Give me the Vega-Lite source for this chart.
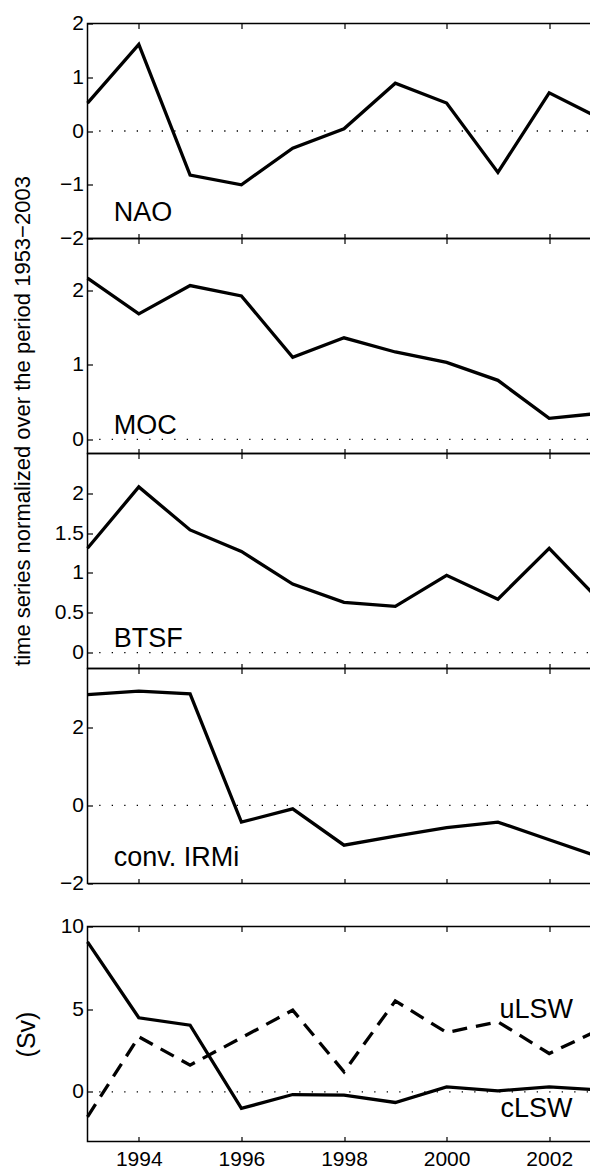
{
  "$schema": "https://vega.github.io/schema/vega-lite/v6.json",
  "padding": {"left": 10.5, "top": 11.5, "right": 0, "bottom": 30},
  "config": {
    "font": "Liberation Sans",
    "view": {"stroke": "black", "strokeWidth": 1.5},
    "axis": {"domain": false, "grid": false, "ticks": true, "tickColor": "black", "tickSize": -5, "tickWidth": 1.2,
      "labelColor": "black", "labelFontSize": 21, "labelFont": "Liberation Sans", "titleColor": "black", "titleFont": "Liberation Sans",
      "titleFontWeight": "normal", "labelOverlap": false, "labelBound": false, "labelFlush": false}
  },
  "datasets": {
    "zero": [{"value": 0}],
    "nao": [
      {"year": 1993, "value": 0.52}, {"year": 1994, "value": 1.61}, {"year": 1995, "value": -0.82}, {"year": 1996, "value": -1.0},
      {"year": 1997, "value": -0.32}, {"year": 1998, "value": 0.04}, {"year": 1999, "value": 0.89}, {"year": 2000, "value": 0.52},
      {"year": 2001, "value": -0.77}, {"year": 2002, "value": 0.71}, {"year": 2003, "value": 0.23}
    ],
    "moc": [
      {"year": 1993, "value": 2.16}, {"year": 1994, "value": 1.68}, {"year": 1995, "value": 2.06}, {"year": 1996, "value": 1.92},
      {"year": 1997, "value": 1.10}, {"year": 1998, "value": 1.36}, {"year": 1999, "value": 1.17}, {"year": 2000, "value": 1.03},
      {"year": 2001, "value": 0.79}, {"year": 2002, "value": 0.28}, {"year": 2003, "value": 0.35}
    ],
    "btsf": [
      {"year": 1993, "value": 1.31}, {"year": 1994, "value": 2.08}, {"year": 1995, "value": 1.54}, {"year": 1996, "value": 1.27},
      {"year": 1997, "value": 0.86}, {"year": 1998, "value": 0.63}, {"year": 1999, "value": 0.58}, {"year": 2000, "value": 0.97},
      {"year": 2001, "value": 0.67}, {"year": 2002, "value": 1.31}, {"year": 2003, "value": 0.64}
    ],
    "irmi": [
      {"year": 1993, "value": 2.83}, {"year": 1994, "value": 2.92}, {"year": 1995, "value": 2.85}, {"year": 1996, "value": -0.43},
      {"year": 1997, "value": -0.09}, {"year": 1998, "value": -1.02}, {"year": 1999, "value": -0.79}, {"year": 2000, "value": -0.57},
      {"year": 2001, "value": -0.43}, {"year": 2002, "value": -0.88}, {"year": 2003, "value": -1.33}
    ],
    "lsw": [
      {"series": "cLSW", "year": 1993, "value": 9.07}, {"series": "cLSW", "year": 1994, "value": 4.48}, {"series": "cLSW", "year": 1995, "value": 4.03},
      {"series": "cLSW", "year": 1996, "value": -1.0}, {"series": "cLSW", "year": 1997, "value": -0.16}, {"series": "cLSW", "year": 1998, "value": -0.2},
      {"series": "cLSW", "year": 1999, "value": -0.64}, {"series": "cLSW", "year": 2000, "value": 0.30}, {"series": "cLSW", "year": 2001, "value": 0.06},
      {"series": "cLSW", "year": 2002, "value": 0.30}, {"series": "cLSW", "year": 2003, "value": 0.12},
      {"series": "uLSW", "year": 1993, "value": -1.51}, {"series": "uLSW", "year": 1994, "value": 3.33}, {"series": "uLSW", "year": 1995, "value": 1.62},
      {"series": "uLSW", "year": 1996, "value": 3.27}, {"series": "uLSW", "year": 1997, "value": 4.94}, {"series": "uLSW", "year": 1998, "value": 1.21},
      {"series": "uLSW", "year": 1999, "value": 5.5}, {"series": "uLSW", "year": 2000, "value": 3.59}, {"series": "uLSW", "year": 2001, "value": 4.24},
      {"series": "uLSW", "year": 2002, "value": 2.32}, {"series": "uLSW", "year": 2003, "value": 3.79}
    ],
    "labels": [
      {"panel": "NAO", "label": "NAO", "year": 1993.51, "value": -1.68},
      {"panel": "MOC", "label": "MOC", "year": 1993.51, "value": 0.07},
      {"panel": "BTSF", "label": "BTSF", "year": 1993.51, "value": 0.075},
      {"panel": "IRMi", "label": "conv. IRMi", "year": 1993.51, "value": -1.55},
      {"panel": "LSW", "label": "uLSW", "year": 2001.03, "value": 4.44},
      {"panel": "LSW", "label": "cLSW", "year": 2001.05, "value": -1.51}
    ]
  },
  "spacing": 0,
  "bounds": "flush",
  "vconcat": [
    {
      "width": 513, "height": 215,
      "resolve": {"axis": {"x": "independent"}},
      "layer": [
        {"data": {"name": "zero"}, "mark": {"type": "rule", "color": "black", "strokeWidth": 1.3, "strokeDash": [1.3, 11.2]},
         "encoding": {"y": {"field": "value", "type": "quantitative"}}},
        {"data": {"name": "nao"}, "mark": {"type": "line", "color": "black", "strokeWidth": 3.3},
         "encoding": {
           "x": {"field": "year", "type": "quantitative", "scale": {"domain": [1993, 2003], "nice": false, "zero": false},
                 "axis": {"orient": "bottom", "values": [1994, 1996, 1998, 2000, 2002], "labels": false, "title": null}},
           "y": {"field": "value", "type": "quantitative", "scale": {"domain": [-2, 2], "nice": false, "zero": false},
                 "axis": {"orient": "left", "values": [-2, -1, 0, 1, 2], "format": "~r", "title": null, "labelPadding": 9}}}},
        {"data": {"name": "labels"}, "transform": [{"filter": "datum.panel === 'NAO'"}],
         "mark": {"type": "text", "align": "left", "baseline": "alphabetic", "fontSize": 27, "color": "black"},
         "encoding": {
           "x": {"field": "year", "type": "quantitative", "axis": {"orient": "top", "values": [1994, 1996, 1998, 2000, 2002], "labels": false, "title": null}},
           "y": {"field": "value", "type": "quantitative"},
           "text": {"field": "label"}}}
      ]
    },
    {
      "width": 513, "height": 215,
      "resolve": {"axis": {"x": "independent"}},
      "layer": [
        {"data": {"name": "zero"}, "mark": {"type": "rule", "color": "black", "strokeWidth": 1.3, "strokeDash": [1.3, 11.2]},
         "encoding": {"y": {"field": "value", "type": "quantitative"}}},
        {"data": {"name": "moc"}, "mark": {"type": "line", "color": "black", "strokeWidth": 3.3},
         "encoding": {
           "x": {"field": "year", "type": "quantitative", "scale": {"domain": [1993, 2003], "nice": false, "zero": false},
                 "axis": {"orient": "bottom", "values": [1994, 1996, 1998, 2000, 2002], "labels": false, "title": null}},
           "y": {"field": "value", "type": "quantitative", "scale": {"domain": [-0.19, 2.69], "nice": false, "zero": false},
                 "axis": {"orient": "left", "values": [0, 1, 2], "format": "~r", "labelPadding": 9,
                          "title": "time series normalized over the period 1953−2003", "titleFontSize": 22,
                          "titleAngle": -90, "titleAlign": "center", "titleBaseline": "alphabetic", "titleX": -58, "titleY": 182}}}},
        {"data": {"name": "labels"}, "transform": [{"filter": "datum.panel === 'MOC'"}],
         "mark": {"type": "text", "align": "left", "baseline": "alphabetic", "fontSize": 27, "color": "black"},
         "encoding": {
           "x": {"field": "year", "type": "quantitative", "axis": {"orient": "top", "values": [1994, 1996, 1998, 2000, 2002], "labels": false, "title": null}},
           "y": {"field": "value", "type": "quantitative"},
           "text": {"field": "label"}}}
      ]
    },
    {
      "width": 513, "height": 215,
      "resolve": {"axis": {"x": "independent"}},
      "layer": [
        {"data": {"name": "zero"}, "mark": {"type": "rule", "color": "black", "strokeWidth": 1.3, "strokeDash": [1.3, 11.2]},
         "encoding": {"y": {"field": "value", "type": "quantitative"}}},
        {"data": {"name": "btsf"}, "mark": {"type": "line", "color": "black", "strokeWidth": 3.3},
         "encoding": {
           "x": {"field": "year", "type": "quantitative", "scale": {"domain": [1993, 2003], "nice": false, "zero": false},
                 "axis": {"orient": "bottom", "values": [1994, 1996, 1998, 2000, 2002], "labels": false, "title": null}},
           "y": {"field": "value", "type": "quantitative", "scale": {"domain": [-0.2, 2.5], "nice": false, "zero": false},
                 "axis": {"orient": "left", "values": [0, 0.5, 1, 1.5, 2], "format": "~r", "title": null, "labelPadding": 9}}}},
        {"data": {"name": "labels"}, "transform": [{"filter": "datum.panel === 'BTSF'"}],
         "mark": {"type": "text", "align": "left", "baseline": "alphabetic", "fontSize": 27, "color": "black"},
         "encoding": {
           "x": {"field": "year", "type": "quantitative", "axis": {"orient": "top", "values": [1994, 1996, 1998, 2000, 2002], "labels": false, "title": null}},
           "y": {"field": "value", "type": "quantitative"},
           "text": {"field": "label"}}}
      ]
    },
    {
      "width": 513, "height": 215,
      "resolve": {"axis": {"x": "independent"}},
      "layer": [
        {"data": {"name": "zero"}, "mark": {"type": "rule", "color": "black", "strokeWidth": 1.3, "strokeDash": [1.3, 11.2]},
         "encoding": {"y": {"field": "value", "type": "quantitative"}}},
        {"data": {"name": "irmi"}, "mark": {"type": "line", "color": "black", "strokeWidth": 3.3},
         "encoding": {
           "x": {"field": "year", "type": "quantitative", "scale": {"domain": [1993, 2003], "nice": false, "zero": false},
                 "axis": {"orient": "bottom", "values": [1994, 1996, 1998, 2000, 2002], "labels": false, "title": null}},
           "y": {"field": "value", "type": "quantitative", "scale": {"domain": [-2, 3.5], "nice": false, "zero": false},
                 "axis": {"orient": "left", "values": [-2, 0, 2], "format": "~r", "title": null, "labelPadding": 9}}}},
        {"data": {"name": "labels"}, "transform": [{"filter": "datum.panel === 'IRMi'"}],
         "mark": {"type": "text", "align": "left", "baseline": "alphabetic", "fontSize": 27, "color": "black"},
         "encoding": {
           "x": {"field": "year", "type": "quantitative", "axis": {"orient": "top", "values": [1994, 1996, 1998, 2000, 2002], "labels": false, "title": null}},
           "y": {"field": "value", "type": "quantitative"},
           "text": {"field": "label"}}}
      ]
    },
    {
      "width": 513, "height": 43,
      "view": {"stroke": null},
      "data": {"values": [{"year": 1993}]},
      "mark": {"type": "point", "opacity": 0},
      "encoding": {"x": {"field": "year", "type": "quantitative", "axis": null}}
    },
    {
      "width": 513, "height": 215,
      "resolve": {"axis": {"x": "independent"}},
      "layer": [
        {"data": {"name": "zero"}, "mark": {"type": "rule", "color": "black", "strokeWidth": 1.3, "strokeDash": [1.3, 11.2]},
         "encoding": {"y": {"field": "value", "type": "quantitative"}}},
        {"data": {"name": "lsw"}, "transform": [{"filter": "datum.series === 'cLSW'"}],
         "mark": {"type": "line", "color": "black", "strokeWidth": 3.3},
         "encoding": {
           "x": {"field": "year", "type": "quantitative", "scale": {"domain": [1993, 2003], "nice": false, "zero": false},
                 "axis": {"orient": "bottom", "values": [1994, 1996, 1998, 2000, 2002], "format": "d", "title": null, "labelPadding": 12}},
           "y": {"field": "value", "type": "quantitative", "scale": {"domain": [-3, 10], "nice": false, "zero": false},
                 "axis": {"orient": "left", "values": [0, 5, 10], "format": "~r", "labelPadding": 9,
                          "title": "(Sv)", "titleFontSize": 25, "titleAngle": -90, "titleAlign": "center", "titleBaseline": "alphabetic",
                          "titleX": -53, "titleY": 107.5}}}},
        {"data": {"name": "lsw"}, "transform": [{"filter": "datum.series === 'uLSW'"}],
         "mark": {"type": "line", "color": "black", "strokeWidth": 3.3, "strokeDash": [15, 9]},
         "encoding": {
           "x": {"field": "year", "type": "quantitative", "axis": null},
           "y": {"field": "value", "type": "quantitative"}}},
        {"data": {"name": "labels"}, "transform": [{"filter": "datum.panel === 'LSW'"}],
         "mark": {"type": "text", "align": "left", "baseline": "alphabetic", "fontSize": 27, "color": "black"},
         "encoding": {
           "x": {"field": "year", "type": "quantitative", "axis": {"orient": "top", "values": [1994, 1996, 1998, 2000, 2002], "labels": false, "title": null}},
           "y": {"field": "value", "type": "quantitative"},
           "text": {"field": "label"}}}
      ]
    }
  ]
}
